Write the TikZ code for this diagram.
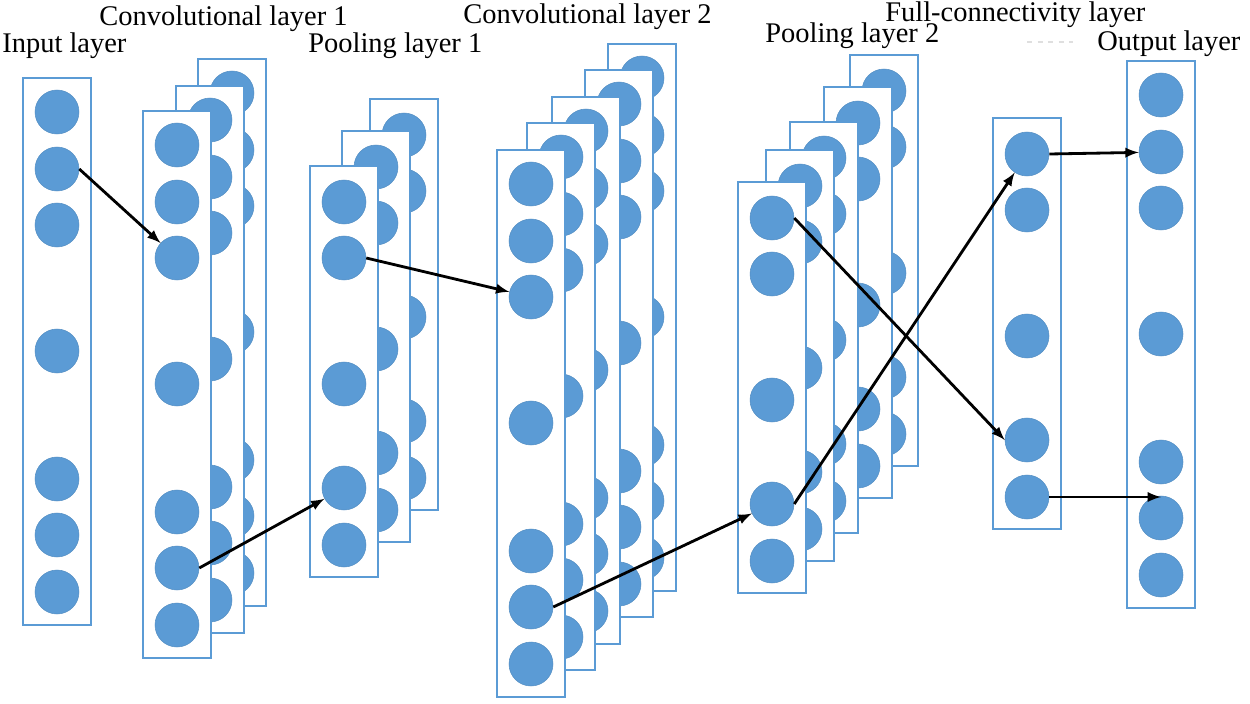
\documentclass[tikz,border=0pt]{standalone}
\usepackage{fontspec}
\setmainfont{Liberation Serif}
\usepackage{tikz}
\usetikzlibrary{arrows,positioning}
\definecolor{unitblue}{RGB}{91,155,213}

% one feature map: name, left, top (pixel units)
\newcommand{\tallmap}[3]{%
  \draw[mapbox] (#2,#3) rectangle ++(68,547);
  \foreach \k/\dy in {1/34,2/91,3/147,4/273,5/401,6/457,7/514}
    \node[unit] (#1\k) at (#2+34,#3+\dy) {};
}
\newcommand{\shortmap}[3]{%
  \draw[mapbox] (#2,#3) rectangle ++(68,411);
  \foreach \k/\dy in {1/36,2/92,3/218,4/322,5/379}
    \node[unit] (#1\k) at (#2+34,#3+\dy) {};
}

\begin{document}
\begin{tikzpicture}[x=0.02cm,y=-0.02cm,
    mapbox/.style={draw=unitblue,fill=white,line width=1.4pt},
    unit/.style={circle,fill=unitblue,draw=unitblue!92!black,line width=0.3pt,inner sep=0pt,minimum size=0.88cm},
    lbl/.style={anchor=base west,inner sep=0pt,font=\rmfamily\fontsize{16.2}{19}\selectfont},
    link/.style={line width=1.6pt,black,-latex}]
    \useasboundingbox (0,0) rectangle (1250,703);
    % input
    \tallmap{inp}{23}{78}
    % conv 1, back to front
    \tallmap{cAc}{198}{59}
    \tallmap{cAb}{176}{86}
    \tallmap{cAa}{143}{111}
    % pool 1
    \shortmap{pAc}{370}{99}
    \shortmap{pAb}{342}{131}
    \shortmap{pAa}{310}{166}
    % conv 2
    \tallmap{cBe}{608}{44}
    \tallmap{cBd}{585}{70}
    \tallmap{cBc}{552}{97}
    \tallmap{cBb}{527}{123}
    \tallmap{cBa}{497}{150}
    % pool 2
    \shortmap{pBe}{850}{55}
    \shortmap{pBd}{824}{87}
    \shortmap{pBc}{790}{122}
    \shortmap{pBb}{766}{150}
    \shortmap{pBa}{738}{182}
    % full connectivity, output
    \shortmap{fc}{993}{118}
    \tallmap{out}{1127}{61}

    \node[lbl] (tinp) at (2,52) {Input layer};
    \node[lbl] (tcA) at (99,25) {Convolutional layer 1};
    \node[lbl] (tpA) at (308,52) {Pooling layer 1};
    \node[lbl] (tcB) at (463,23) {Convolutional layer 2};
    \node[lbl] (tpB) at (765,42) {Pooling layer 2};
    \node[lbl] (tfc) at (885,21) {Full-connectivity layer};
    \node[lbl] (tout) at (1097,50) {Output layer};
    \draw[gray!25,dashed,line width=0.6pt] (1027,42) -- (1073,42);

    \draw[link] (inp2.east) -- (cAa3);
    \draw[link] (cAa6.east) -- (pAa4);
    \draw[link] (pAa2.east) -- (cBa3);
    \draw[link] (cBa6.east) -- (pBa4);
    \draw[link] (pBa4.east) -- (fc1);
    \draw[link] (pBa1.east) -- (fc4.west);
    \draw[link] (fc1.east) -- (out2);
    \draw[link] (fc5.east) -- (fc5 -| out6.north);
\end{tikzpicture}
\end{document}
